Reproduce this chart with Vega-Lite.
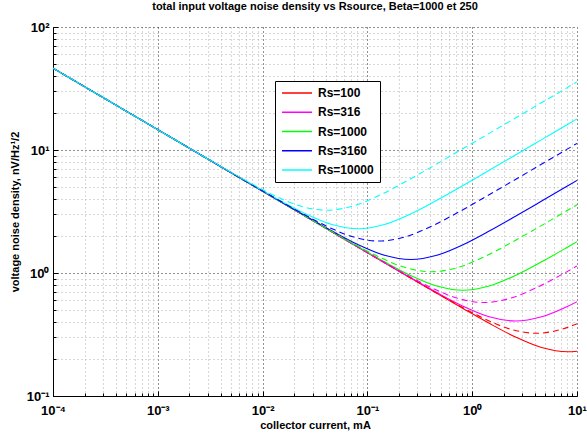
{
  "$schema": "https://vega.github.io/schema/vega-lite/v6.json",
  "width": 524,
  "height": 369,
  "autosize": {"type": "none"},
  "padding": {"left": 53, "top": 27, "right": 10, "bottom": 38},
  "background": "white",
  "config": {
    "font": "Liberation Sans",
    "view": {"stroke": null}
  },
  "title": {
    "text": "total input voltage noise density vs Rsource, Beta=1000 et 250",
    "fontSize": 11,
    "fontWeight": "bold",
    "font": "Liberation Sans",
    "color": "black",
    "anchor": "middle",
    "offset": 9
  },
  "data": {
    "values": [
      {"r": "Rs=100", "b": "1000", "x": 0.0001, "y": 46.27},
      {"r": "Rs=100", "b": "1000", "x": 0.08174, "y": 1.6186},
      {"r": "Rs=100", "b": "1000", "x": 0.2585, "y": 0.9107},
      {"r": "Rs=100", "b": "1000", "x": 0.8174, "y": 0.5144},
      {"r": "Rs=100", "b": "1000", "x": 1.4535, "y": 0.3898},
      {"r": "Rs=100", "b": "1000", "x": 2.585, "y": 0.3019},
      {"r": "Rs=100", "b": "1000", "x": 4.597, "y": 0.2476},
      {"r": "Rs=100", "b": "1000", "x": 8.174, "y": 0.2289},
      {"r": "Rs=100", "b": "1000", "x": 10, "y": 0.2312},

      {"r": "Rs=100", "b": "250", "x": 0.0001, "y": 46.27},
      {"r": "Rs=100", "b": "250", "x": 0.04087, "y": 2.289},
      {"r": "Rs=100", "b": "250", "x": 0.12924, "y": 1.2878},
      {"r": "Rs=100", "b": "250", "x": 0.4087, "y": 0.7274},
      {"r": "Rs=100", "b": "250", "x": 0.7268, "y": 0.5513},
      {"r": "Rs=100", "b": "250", "x": 1.2924, "y": 0.4269},
      {"r": "Rs=100", "b": "250", "x": 2.298, "y": 0.3502},
      {"r": "Rs=100", "b": "250", "x": 4.087, "y": 0.3237},
      {"r": "Rs=100", "b": "250", "x": 7.268, "y": 0.3502},
      {"r": "Rs=100", "b": "250", "x": 10, "y": 0.3867},

      {"r": "Rs=316", "b": "1000", "x": 0.0001, "y": 46.27},
      {"r": "Rs=316", "b": "1000", "x": 0.02587, "y": 2.8766},
      {"r": "Rs=316", "b": "1000", "x": 0.08181, "y": 1.6184},
      {"r": "Rs=316", "b": "1000", "x": 0.2587, "y": 0.9142},
      {"r": "Rs=316", "b": "1000", "x": 0.46, "y": 0.6928},
      {"r": "Rs=316", "b": "1000", "x": 0.8181, "y": 0.5365},
      {"r": "Rs=316", "b": "1000", "x": 1.4548, "y": 0.4401},
      {"r": "Rs=316", "b": "1000", "x": 2.587, "y": 0.4068},
      {"r": "Rs=316", "b": "1000", "x": 4.6, "y": 0.4401},
      {"r": "Rs=316", "b": "1000", "x": 8.181, "y": 0.5365},
      {"r": "Rs=316", "b": "1000", "x": 10, "y": 0.5842},

      {"r": "Rs=316", "b": "250", "x": 0.0001, "y": 46.27},
      {"r": "Rs=316", "b": "250", "x": 0.012935, "y": 4.069},
      {"r": "Rs=316", "b": "250", "x": 0.0409, "y": 2.2892},
      {"r": "Rs=316", "b": "250", "x": 0.12935, "y": 1.293},
      {"r": "Rs=316", "b": "250", "x": 0.23, "y": 0.98},
      {"r": "Rs=316", "b": "250", "x": 0.409, "y": 0.7588},
      {"r": "Rs=316", "b": "250", "x": 0.7274, "y": 0.6225},
      {"r": "Rs=316", "b": "250", "x": 1.2935, "y": 0.5754},
      {"r": "Rs=316", "b": "250", "x": 2.3, "y": 0.6225},
      {"r": "Rs=316", "b": "250", "x": 4.09, "y": 0.7588},
      {"r": "Rs=316", "b": "250", "x": 7.274, "y": 0.98},
      {"r": "Rs=316", "b": "250", "x": 10, "y": 1.1407},

      {"r": "Rs=1000", "b": "1000", "x": 0.0001, "y": 46.27},
      {"r": "Rs=1000", "b": "1000", "x": 0.008174, "y": 5.118},
      {"r": "Rs=1000", "b": "1000", "x": 0.02585, "y": 2.8796},
      {"r": "Rs=1000", "b": "1000", "x": 0.08174, "y": 1.6265},
      {"r": "Rs=1000", "b": "1000", "x": 0.14535, "y": 1.2327},
      {"r": "Rs=1000", "b": "1000", "x": 0.2585, "y": 0.9545},
      {"r": "Rs=1000", "b": "1000", "x": 0.4597, "y": 0.783},
      {"r": "Rs=1000", "b": "1000", "x": 0.8174, "y": 0.7238},
      {"r": "Rs=1000", "b": "1000", "x": 1.4535, "y": 0.783},
      {"r": "Rs=1000", "b": "1000", "x": 2.585, "y": 0.9545},
      {"r": "Rs=1000", "b": "1000", "x": 4.597, "y": 1.2327},
      {"r": "Rs=1000", "b": "1000", "x": 8.174, "y": 1.6265},
      {"r": "Rs=1000", "b": "1000", "x": 10, "y": 1.7959},

      {"r": "Rs=1000", "b": "250", "x": 0.0001, "y": 46.27},
      {"r": "Rs=1000", "b": "250", "x": 0.004087, "y": 7.238},
      {"r": "Rs=1000", "b": "250", "x": 0.012924, "y": 4.0723},
      {"r": "Rs=1000", "b": "250", "x": 0.04087, "y": 2.3002},
      {"r": "Rs=1000", "b": "250", "x": 0.07268, "y": 1.7433},
      {"r": "Rs=1000", "b": "250", "x": 0.12924, "y": 1.3499},
      {"r": "Rs=1000", "b": "250", "x": 0.2298, "y": 1.1073},
      {"r": "Rs=1000", "b": "250", "x": 0.4087, "y": 1.0236},
      {"r": "Rs=1000", "b": "250", "x": 0.7268, "y": 1.1073},
      {"r": "Rs=1000", "b": "250", "x": 1.2924, "y": 1.3499},
      {"r": "Rs=1000", "b": "250", "x": 2.298, "y": 1.7433},
      {"r": "Rs=1000", "b": "250", "x": 4.087, "y": 2.3002},
      {"r": "Rs=1000", "b": "250", "x": 7.268, "y": 3.0571},
      {"r": "Rs=1000", "b": "250", "x": 10, "y": 3.5829},

      {"r": "Rs=3160", "b": "1000", "x": 0.0001, "y": 46.27},
      {"r": "Rs=3160", "b": "1000", "x": 0.002587, "y": 9.097},
      {"r": "Rs=3160", "b": "1000", "x": 0.008181, "y": 5.1182},
      {"r": "Rs=3160", "b": "1000", "x": 0.02587, "y": 2.891},
      {"r": "Rs=3160", "b": "1000", "x": 0.046, "y": 2.191},
      {"r": "Rs=3160", "b": "1000", "x": 0.08181, "y": 1.6966},
      {"r": "Rs=3160", "b": "1000", "x": 0.14548, "y": 1.3917},
      {"r": "Rs=3160", "b": "1000", "x": 0.2587, "y": 1.2865},
      {"r": "Rs=3160", "b": "1000", "x": 0.46, "y": 1.3917},
      {"r": "Rs=3160", "b": "1000", "x": 0.8181, "y": 1.6966},
      {"r": "Rs=3160", "b": "1000", "x": 1.4548, "y": 2.191},
      {"r": "Rs=3160", "b": "1000", "x": 2.587, "y": 2.891},
      {"r": "Rs=3160", "b": "1000", "x": 4.6, "y": 3.8423},
      {"r": "Rs=3160", "b": "1000", "x": 8.181, "y": 5.1182},
      {"r": "Rs=3160", "b": "1000", "x": 10, "y": 5.6579},

      {"r": "Rs=3160", "b": "250", "x": 0.0001, "y": 46.27},
      {"r": "Rs=3160", "b": "250", "x": 0.0012935, "y": 12.867},
      {"r": "Rs=3160", "b": "250", "x": 0.00409, "y": 7.2387},
      {"r": "Rs=3160", "b": "250", "x": 0.012935, "y": 4.0888},
      {"r": "Rs=3160", "b": "250", "x": 0.023, "y": 3.0988},
      {"r": "Rs=3160", "b": "250", "x": 0.0409, "y": 2.3996},
      {"r": "Rs=3160", "b": "250", "x": 0.07274, "y": 1.9683},
      {"r": "Rs=3160", "b": "250", "x": 0.12935, "y": 1.8195},
      {"r": "Rs=3160", "b": "250", "x": 0.23, "y": 1.9683},
      {"r": "Rs=3160", "b": "250", "x": 0.409, "y": 2.3996},
      {"r": "Rs=3160", "b": "250", "x": 0.7274, "y": 3.0988},
      {"r": "Rs=3160", "b": "250", "x": 1.2935, "y": 4.0888},
      {"r": "Rs=3160", "b": "250", "x": 2.3, "y": 5.4341},
      {"r": "Rs=3160", "b": "250", "x": 4.09, "y": 7.2387},
      {"r": "Rs=3160", "b": "250", "x": 10, "y": 11.313},

      {"r": "Rs=10000", "b": "1000", "x": 0.0001, "y": 46.27},
      {"r": "Rs=10000", "b": "1000", "x": 0.0008174, "y": 16.186},
      {"r": "Rs=10000", "b": "1000", "x": 0.002585, "y": 9.1062},
      {"r": "Rs=10000", "b": "1000", "x": 0.008174, "y": 5.1436},
      {"r": "Rs=10000", "b": "1000", "x": 0.014535, "y": 3.8982},
      {"r": "Rs=10000", "b": "1000", "x": 0.02585, "y": 3.0186},
      {"r": "Rs=10000", "b": "1000", "x": 0.04597, "y": 2.4761},
      {"r": "Rs=10000", "b": "1000", "x": 0.08174, "y": 2.2889},
      {"r": "Rs=10000", "b": "1000", "x": 0.14535, "y": 2.4761},
      {"r": "Rs=10000", "b": "1000", "x": 0.2585, "y": 3.0186},
      {"r": "Rs=10000", "b": "1000", "x": 0.4597, "y": 3.8982},
      {"r": "Rs=10000", "b": "1000", "x": 0.8174, "y": 5.1436},
      {"r": "Rs=10000", "b": "1000", "x": 1.4535, "y": 6.836},
      {"r": "Rs=10000", "b": "1000", "x": 2.585, "y": 9.1062},
      {"r": "Rs=10000", "b": "1000", "x": 4.597, "y": 12.139},
      {"r": "Rs=10000", "b": "1000", "x": 8.174, "y": 16.186},
      {"r": "Rs=10000", "b": "1000", "x": 10, "y": 17.9},

      {"r": "Rs=10000", "b": "250", "x": 0.0001, "y": 46.27},
      {"r": "Rs=10000", "b": "250", "x": 0.0004087, "y": 22.888},
      {"r": "Rs=10000", "b": "250", "x": 0.0012924, "y": 12.877},
      {"r": "Rs=10000", "b": "250", "x": 0.004087, "y": 7.2737},
      {"r": "Rs=10000", "b": "250", "x": 0.007268, "y": 5.5126},
      {"r": "Rs=10000", "b": "250", "x": 0.012924, "y": 4.2687},
      {"r": "Rs=10000", "b": "250", "x": 0.02298, "y": 3.5016},
      {"r": "Rs=10000", "b": "250", "x": 0.04087, "y": 3.2368},
      {"r": "Rs=10000", "b": "250", "x": 0.07268, "y": 3.5016},
      {"r": "Rs=10000", "b": "250", "x": 0.12924, "y": 4.2687},
      {"r": "Rs=10000", "b": "250", "x": 0.2298, "y": 5.5126},
      {"r": "Rs=10000", "b": "250", "x": 0.4087, "y": 7.2737},
      {"r": "Rs=10000", "b": "250", "x": 0.7268, "y": 9.667},
      {"r": "Rs=10000", "b": "250", "x": 1.2924, "y": 12.877},
      {"r": "Rs=10000", "b": "250", "x": 2.298, "y": 17.166},
      {"r": "Rs=10000", "b": "250", "x": 4.087, "y": 22.888},
      {"r": "Rs=10000", "b": "250", "x": 10, "y": 35.8}
    ]
  },
  "resolve": {"axis": {"x": "independent", "y": "independent"}},
  "layer": [
    {
      "transform": [{"filter": "datum.b == '1000'"}],
      "mark": {"type": "line", "strokeWidth": 1.1, "clip": true, "interpolate": "monotone"},
      "encoding": {
        "x": {
          "field": "x",
          "type": "quantitative",
          "scale": {"type": "log", "domain": [0.0001, 10], "nice": false},
          "axis": {
            "orient": "bottom",
            "title": null,
            "labels": false,
            "domain": false,
            "values": [0.0002, 0.0003, 0.0004, 0.0005, 0.0006, 0.0007, 0.0008, 0.0009, 0.002, 0.003, 0.004, 0.005, 0.006, 0.007, 0.008, 0.009, 0.02, 0.03, 0.04, 0.05, 0.06, 0.07, 0.08, 0.09, 0.2, 0.3, 0.4, 0.5, 0.6, 0.7, 0.8, 0.9, 2, 3, 4, 5, 6, 7, 8, 9],
            "ticks": true,
            "tickColor": "black",
            "tickSize": -3,
            "grid": true,
            "gridDash": [1, 3],
            "gridWidth": 1,
            "gridColor": "#b0b0b0"
          }
        },
        "y": {
          "field": "y",
          "type": "quantitative",
          "scale": {"type": "log", "domain": [0.1, 100], "nice": false},
          "axis": {
            "orient": "left",
            "title": null,
            "labels": false,
            "domain": false,
            "values": [0.2, 0.3, 0.4, 0.5, 0.6, 0.7, 0.8, 0.9, 2, 3, 4, 5, 6, 7, 8, 9, 20, 30, 40, 50, 60, 70, 80, 90],
            "ticks": true,
            "tickColor": "black",
            "tickSize": -3,
            "grid": true,
            "gridDash": [1, 3],
            "gridWidth": 1,
            "gridColor": "#b0b0b0"
          }
        },
        "color": {
          "field": "r",
          "type": "nominal",
          "scale": {
            "domain": ["Rs=100", "Rs=316", "Rs=1000", "Rs=3160", "Rs=10000"],
            "range": ["#ff0000", "#ff00ff", "#00ff00", "#0000ff", "#00ffff"]
          },
          "legend": {
            "title": null,
            "orient": "none",
            "legendX": 222,
            "legendY": 54,
            "fillColor": "white",
            "strokeColor": "black",
            "padding": 6,
            "symbolType": "stroke",
            "symbolSize": 900,
            "symbolStrokeWidth": 1.5,
            "clipHeight": 12,
            "rowPadding": 7.25,
            "labelOffset": 5,
            "labelFont": "Liberation Sans",
            "labelFontSize": 12,
            "labelFontWeight": "bold",
            "labelColor": "black"
          }
        }
      }
    },
    {
      "transform": [{"filter": "datum.b == '250'"}],
      "mark": {"type": "line", "strokeWidth": 1.1, "clip": true, "interpolate": "monotone", "strokeDash": [6, 4]},
      "encoding": {
        "x": {
          "field": "x",
          "type": "quantitative",
          "scale": {"type": "log", "domain": [0.0001, 10], "nice": false},
          "axis": {
            "orient": "bottom",
            "title": "collector current, mA",
            "titleFont": "Liberation Sans",
            "titleFontSize": 11,
            "titleFontWeight": "bold",
            "titleColor": "black",
            "titlePadding": 2,
            "values": [0.0001, 0.001, 0.01, 0.1, 1, 10],
            "labelExpr": "datum.value == 0.0001 ? '10⁻⁴' : datum.value == 0.001 ? '10⁻³' : datum.value == 0.01 ? '10⁻²' : datum.value == 0.1 ? '10⁻¹' : datum.value == 1 ? '10⁰' : '10¹'",
            "labelFont": "Liberation Sans",
            "labelFontSize": 13,
            "labelFontWeight": "bold",
            "labelColor": "black",
            "labelPadding": 13,
            "labelFlush": false,
            "labelOverlap": false,
            "labelBound": false,
            "domainColor": "black",
            "domainWidth": 1,
            "ticks": true,
            "tickColor": "black",
            "tickSize": -5,
            "grid": true,
            "gridDash": [1, 3],
            "gridWidth": 1,
            "gridColor": "#222222"
          }
        },
        "y": {
          "field": "y",
          "type": "quantitative",
          "scale": {"type": "log", "domain": [0.1, 100], "nice": false},
          "axis": {
            "orient": "left",
            "title": "voltage noise density, nV/Hz¹/2",
            "titleFont": "Liberation Sans",
            "titleFontSize": 11,
            "titleFontWeight": "bold",
            "titleColor": "black",
            "titlePadding": 6,
            "values": [0.1, 1, 10, 100],
            "labelExpr": "datum.value == 0.1 ? '10⁻¹' : datum.value == 1 ? '10⁰' : datum.value == 10 ? '10¹' : '10²'",
            "labelFont": "Liberation Sans",
            "labelFontSize": 13,
            "labelFontWeight": "bold",
            "labelColor": "black",
            "labelPadding": 9,
            "labelFlush": false,
            "labelOverlap": false,
            "labelBound": false,
            "domainColor": "black",
            "domainWidth": 1,
            "ticks": true,
            "tickColor": "black",
            "tickSize": -5,
            "grid": true,
            "gridDash": [1, 3],
            "gridWidth": 1,
            "gridColor": "#222222"
          }
        },
        "color": {
          "field": "r",
          "type": "nominal"
        }
      }
    }
  ]
}
